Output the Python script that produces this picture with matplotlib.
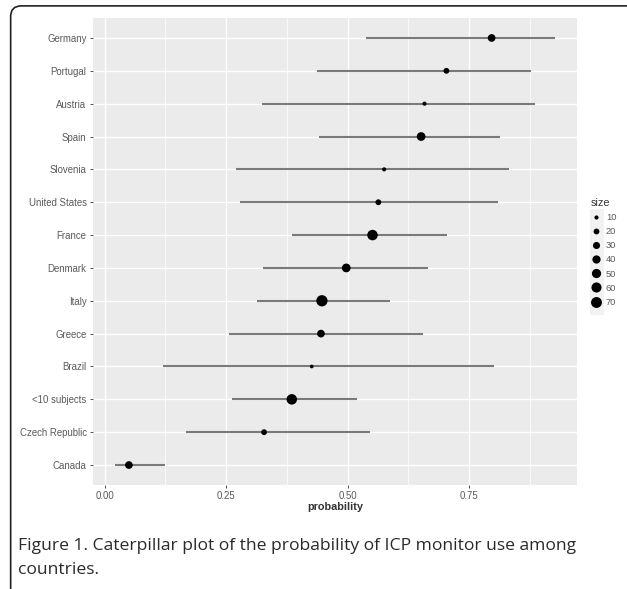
import numpy as np
import matplotlib.pyplot as plt
from matplotlib.lines import Line2D
from matplotlib.patches import FancyBboxPatch, Rectangle

countries = ["Germany", "Portugal", "Austria", "Spain", "Slovenia", "United States",
             "France", "Denmark", "Italy", "Greece", "Brazil", "<10 subjects",
             "Czech Republic", "Canada"]
prob  = [0.796, 0.703, 0.658, 0.651, 0.575, 0.563, 0.551, 0.497, 0.447, 0.445, 0.426, 0.385, 0.328, 0.050]
lower = [0.538, 0.437, 0.324, 0.441, 0.270, 0.278, 0.386, 0.326, 0.314, 0.256, 0.120, 0.262, 0.167, 0.021]
upper = [0.926, 0.878, 0.885, 0.814, 0.831, 0.810, 0.705, 0.666, 0.588, 0.654, 0.800, 0.520, 0.545, 0.125]
size  = [35, 20, 10, 45, 10, 20, 65, 45, 75, 35, 8, 65, 20, 35]
legend_sizes = [10, 20, 30, 40, 50, 60, 70]
xticks = [0.0, 0.25, 0.5, 0.75]
xtick_labels = ["0.00", "0.25", "0.50", "0.75"]

caption = ("Figure 1. Caterpillar plot of the probability of ICP monitor use among\n"
           "countries.")

plt.rcParams["font.family"] = ["Liberation Sans", "DejaVu Sans"]

def area(v):
    return 0.88 * np.asarray(v)

fig = plt.figure(figsize=(6.27, 5.89), dpi=100)

# rounded frame round the whole figure, running off the right and bottom edge
frame = FancyBboxPatch((0.017, -0.05), 1.2, 1.04, boxstyle="round,pad=0,rounding_size=0.017",
                       transform=fig.transFigure, facecolor="none", edgecolor="#222222",
                       linewidth=1.2, mutation_aspect=627 / 589)
fig.patches.append(frame)

ax = fig.add_axes([0.148, 0.177, 0.772, 0.792])
ax.set_facecolor("#ebebeb")
for s in ax.spines.values():
    s.set_visible(False)

y = np.arange(len(countries))[::-1] + 1
ax.hlines(y, lower, upper, color="#7a7a7a", linewidth=1.5, zorder=3)
ax.scatter(prob, y, s=area(size), color="black", zorder=4, linewidths=0)

lo, hi = min(lower), max(upper)
pad = 0.05 * (hi - lo)
ax.set_xlim(lo - pad, hi + pad)
ax.set_ylim(0.4, len(countries) + 0.6)

ax.set_xticks(xticks)
ax.set_xticklabels(xtick_labels)
ax.set_xticks([0.125, 0.375, 0.625, 0.875], minor=True)
ax.set_yticks(y)
ax.set_yticklabels(countries)
ax.grid(which="major", color="white", linewidth=1.0, zorder=0)
ax.grid(which="minor", axis="x", color="white", linewidth=0.5, zorder=0)
ax.set_axisbelow(True)
ax.tick_params(which="major", colors="#333333", labelcolor="#5a5a5a", labelsize=6.9,
               length=2.5, width=0.6, pad=2)
ax.tick_params(which="minor", length=0)
ax.set_xlabel("probability", fontsize=7.8, color="#333333", fontweight="bold", labelpad=1)

handles = [Line2D([], [], linestyle="none", marker="o", markersize=np.sqrt(area(v)),
                  markerfacecolor="black", markeredgewidth=0) for v in legend_sizes]
fig.add_artist(Rectangle((0.941, 0.466), 0.023, 0.180, transform=fig.transFigure,
                         facecolor="#f2f2f2", edgecolor="none"))
leg = fig.legend(handles, [str(v) for v in legend_sizes], title="size",
                 loc="upper left", bbox_to_anchor=(0.932, 0.675), frameon=False,
                 fontsize=6.7, title_fontsize=7.8, labelspacing=0.55,
                 handlelength=1.0, handletextpad=0.6, borderpad=0.2)
leg._legend_box.align = "left"
for t in leg.get_texts():
    t.set_color("#5a5a5a")
leg.get_title().set_color("#333333")

fig.text(0.029, 0.087, caption, fontsize=12.6, family="Open Sans", color="#2a2a2a",
         va="top", linespacing=1.72)

fig.savefig("out.png", dpi=100)
